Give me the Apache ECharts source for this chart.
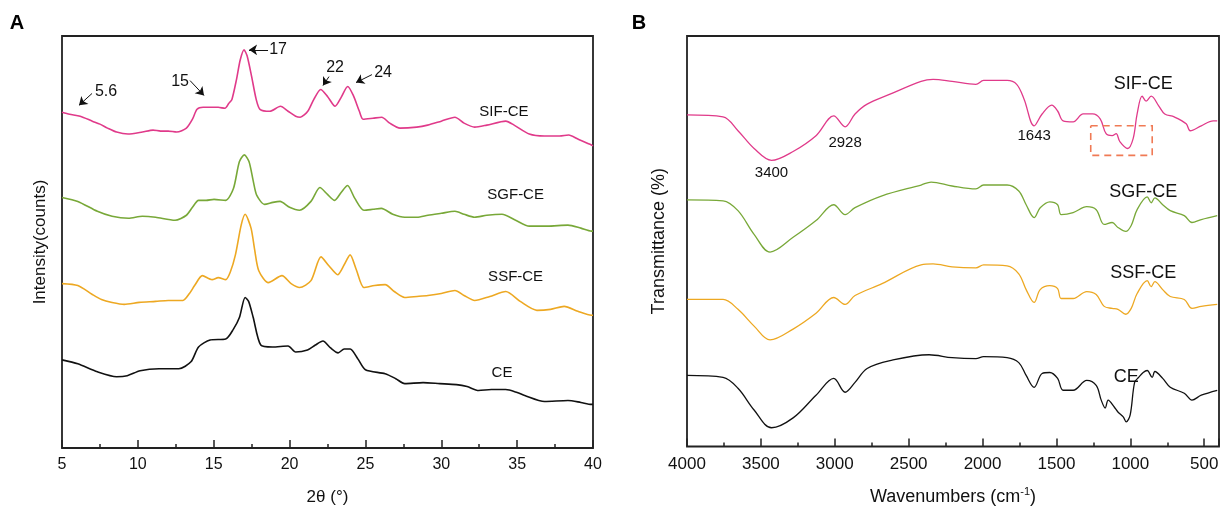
<!DOCTYPE html>
<html><head><meta charset="utf-8">
<script src="https://cdn.jsdelivr.net/npm/echarts@6/dist/echarts.min.js"></script>
<style>html,body{margin:0;padding:0;background:#fff}#c{width:1222px;height:511px}</style>
</head><body><div id="c"></div>
<script>
// ---------- Panel A: XRD, 2θ (°) vs intensity (offset, arbitrary units) ----------
const xrdSIF = [[5.0,339],[5.5,337],[6.2,335],[7.0,330],[7.5,327],[8.0,323],[8.6,319],[9.35,317],[10.3,319],[11.0,321],[11.5,320],[12.0,320],[12.56,319],[13.2,323],[13.6,332],[13.9,342],[14.3,344],[14.75,344],[15.3,344],[15.74,343],[16.0,348],[16.2,352],[16.5,372],[16.75,392],[17.0,402],[17.2,396],[17.5,375],[17.8,352],[18.05,342],[18.7,340],[19.4,345],[19.9,340],[20.4,335],[20.7,334],[21.2,340],[21.6,352],[22.05,362],[22.5,355],[23.0,345],[23.4,354],[23.83,365],[24.2,356],[24.6,340],[24.84,332],[25.5,333],[26.07,334],[26.6,328],[27.28,323],[28.38,324],[29.1,326],[30.0,330],[30.9,334],[31.5,328],[32.2,324],[33.0,326],[34.25,330],[34.8,326],[35.8,317],[36.8,315],[37.8,315],[38.4,316],[39.0,312],[39.9,306],[40,305]];
const xrdSGF = [[5.0,253],[6.04,249],[7.33,239],[8.3,234],[9.38,232],[10.3,234],[11.17,233],[12.45,230],[13.2,235],[13.6,243],[14.0,250],[14.5,250],[15.02,251],[15.79,250],[16.3,262],[16.69,289],[17.02,296],[17.33,289],[17.6,270],[17.84,255],[18.35,246],[18.9,248],[19.37,249],[20.0,243],[20.66,240],[21.41,249],[22.0,263],[22.5,256],[22.97,250],[23.4,258],[23.82,265],[24.3,252],[24.9,240],[25.5,241],[26.05,242],[26.8,236],[27.59,233],[28.4,233],[29.12,235],[30.0,237],[30.9,239],[31.5,236],[32.2,233],[33.0,235],[34.0,236],[34.9,230],[35.8,224],[37.0,224],[38.35,225],[39.2,222],[39.9,219],[40,219]];
const xrdSSF = [[5.0,166],[6.04,164],[7.0,155],[7.6,150],[8.3,147],[9.1,145],[10.1,147],[11.17,148],[12.0,149],[12.97,149],[13.4,156],[13.74,164],[14.25,174],[14.89,170],[15.3,172],[15.79,170],[16.1,178],[16.43,195],[16.81,225],[17.07,236],[17.46,222],[17.7,200],[17.97,179],[18.6,167],[19.5,174],[20.1,166],[20.66,162],[21.41,169],[22.07,193],[22.59,184],[23.17,175],[23.6,185],[23.99,195],[24.4,180],[24.9,162],[25.6,164],[26.3,165],[26.9,158],[27.59,152],[28.4,153],[29.12,154],[30.0,156],[30.9,159],[31.5,154],[32.2,149],[33.2,153],[34.25,158],[35.2,148],[36.3,139],[37.2,140],[38.1,143],[39.0,138],[39.9,134],[40,134]];
const xrdCE = [[5.0,89],[6.04,85],[7.33,77],[8.6,72],[9.3,73],[10.15,78],[11.4,80],[12.7,80],[13.5,87],[14.0,102],[14.76,109],[15.79,110],[16.3,120],[16.7,132],[17.07,152],[17.3,148],[17.6,132],[18.1,104],[18.87,102],[19.9,103],[20.4,97],[21.18,99],[21.7,104],[22.2,108],[22.7,101],[23.2,96],[23.6,100],[24.0,100],[24.5,90],[25.0,79],[26.3,75],[27.0,70],[27.59,65],[28.8,66],[29.9,65],[31.0,64],[31.7,62],[32.46,58],[33.3,59],[34.25,59],[35.0,56],[35.5,53],[36.8,47],[38.35,48],[39.2,46],[39.9,44],[40,44]];
const xrdNames = ['SIF-CE','SGF-CE','SSF-CE','CE'];
const xrdNamePos = [[34.13,339],[34.9,256],[34.9,173],[34.0,76]];
const xrdPeakLabels = [['5.6',7.9,360],['15',12.78,370],['17',19.24,402],['22',23.0,384],['24',26.16,379]];
const xrdArrows = [[[6.98,358],[6.12,346]],[[13.44,371],[14.36,356]],[[18.58,402],[17.33,402]],[[22.6,375],[22.2,366]],[[25.43,377],[24.38,369]]];
const xTicksA = {min:5, max:40, interval:5};

// ---------- Panel B: FTIR, wavenumber (cm-1) vs transmittance (offset) ----------
const irSIF = [[4000,336],[3756,334],[3655,320],[3546,302],[3428,290],[3282,299],[3127,315],[3007,335],[2930,324],[2863,337],[2781,347],[2626,357],[2416,370],[2335,372],[2206,370],[2045,367],[1993,371],[1834,371],[1769,367],[1719,352],[1651,325],[1597,337],[1532,346],[1492,340],[1455,330],[1387,329],[1319,337],[1255,337],[1204,332],[1164,317],[1123,315],[1096,317],[1071,309],[1018,302],[981,312],[954,337],[920,355],[893,350],[859,355],[807,345],[767,337],[703,334],[622,327],[595,320],[520,325],[439,330],[412,330]];
const irSGF = [[4000,250],[3756,249],[3655,239],[3546,215],[3438,197],[3282,212],[3127,229],[3007,245],[2930,235],[2863,242],[2680,254],[2416,265],[2348,268],[2206,264],[2045,261],[1993,265],[1834,265],[1755,259],[1705,245],[1651,232],[1610,242],[1545,248],[1492,245],[1468,235],[1387,237],[1295,243],[1231,240],[1177,225],[1123,227],[1084,222],[1031,218],[994,224],[954,240],[886,253],[859,247],[834,252],[781,245],[730,239],[635,234],[583,227],[520,230],[412,234]];
const irSSF = [[4000,149],[3756,149],[3655,139],[3546,122],[3438,108],[3282,119],[3127,135],[3007,151],[2930,144],[2863,153],[2680,165],[2416,184],[2335,185],[2206,182],[2045,181],[1993,184],[1834,183],[1755,175],[1705,159],[1651,146],[1610,159],[1545,163],[1492,160],[1468,150],[1387,150],[1295,157],[1231,154],[1177,142],[1123,140],[1084,139],[1031,134],[994,140],[954,155],[886,168],[859,162],[834,167],[781,159],[730,152],[635,149],[583,140],[520,142],[412,144]];
const irCE = [[4000,72],[3756,70],[3655,59],[3546,37],[3428,19],[3282,29],[3127,52],[3007,69],[2930,55],[2863,65],[2781,79],[2626,87],[2362,93],[2206,90],[2045,89],[1993,91],[1834,90],[1755,85],[1705,72],[1651,60],[1597,74],[1545,75],[1492,69],[1455,57],[1387,57],[1295,67],[1231,62],[1197,47],[1170,39],[1150,47],[1109,40],[1084,35],[1048,30],[1028,25],[1001,32],[971,65],[944,70],[913,75],[886,77],[852,70],[834,76],[781,69],[730,60],[635,54],[583,47],[520,52],[412,57]];
const irNames = ['SIF-CE','SGF-CE','SSF-CE','CE'];
const irNamePos = [[913,367],[913,258],[913,176],[1028,70]];
const irPeakLabels = [['3400',3428,277],['2928',2930,308],['1643',1651,315]];
const irBox = [[1268,325],[852,325],[852,295],[1268,295],[1268,325]];
const xTicksB = {min:400, max:4000, interval:500};

const colors = ['#E03A8A','#78A838','#EDA822','#111111'];
const FONT = '"Liberation Sans", Arial, sans-serif';

const neg = arr => arr.map(p => [-p[0], p[1]]);

const chart = echarts.init(document.getElementById('c'), null, {renderer:'canvas'});

function xAxisCommon(extra){
  return Object.assign({
    type:'value', axisLine:{show:false},
    axisTick:{show:true, inside:true, length:8, lineStyle:{color:'#222', width:1.5}},
    minorTick:{show:true, splitNumber:2, length:4, lineStyle:{color:'#222', width:1.5}},
    splitLine:{show:false}, minorSplitLine:{show:false},
    nameLocation:'middle',
    nameTextStyle:{fontFamily:FONT, fontSize:17, color:'#111'},
    axisLabel:{fontFamily:FONT, fontSize:16, color:'#111', margin:9}
  }, extra);
}
function yAxisCommon(extra){
  return Object.assign({
    type:'value', min:0, max:416,
    axisLine:{show:false}, axisTick:{show:false}, axisLabel:{show:false}, splitLine:{show:false},
    nameLocation:'middle', nameRotate:90,
    nameTextStyle:{fontFamily:FONT, fontSize:17, color:'#111'}
  }, extra);
}
function textLayer(xi, data, size){
  return {type:'scatter', xAxisIndex:xi, yAxisIndex:xi, symbol:'circle', symbolSize:1,
    itemStyle:{color:'rgba(255,255,255,0)'}, silent:true, data:data,
    label:{show:true, position:'inside', formatter:'{b}', fontFamily:FONT, fontSize:size,
      color:'#111', textBorderWidth:0, textBorderColor:'transparent', opacity:1}, z:5};
}

const series = [];
[xrdSIF, xrdSGF, xrdSSF, xrdCE].forEach((d,i)=>{
  series.push({type:'line', xAxisIndex:0, yAxisIndex:0, data:d, showSymbol:false, smooth:0.25,
    lineStyle:{color:colors[i], width:1.6}, itemStyle:{color:colors[i]}, silent:true, z:3});
});
[irSIF, irSGF, irSSF, irCE].forEach((d,i)=>{
  series.push({type:'line', xAxisIndex:1, yAxisIndex:1, data:neg(d), showSymbol:false, smooth:0.35,
    lineStyle:{color:colors[i], width:1.3}, itemStyle:{color:colors[i]}, silent:true, z:3});
});
series.push(textLayer(0, xrdNames.map((n,i)=>({name:n, value:xrdNamePos[i]})), 15));
series.push(textLayer(0, xrdPeakLabels.map(p=>({name:p[0], value:[p[1],p[2]]})), 16));
series.push({type:'lines', coordinateSystem:'cartesian2d', xAxisIndex:0, yAxisIndex:0, silent:true,
  symbol:['none','arrow'], symbolSize:8,
  lineStyle:{color:'#111', width:1, opacity:1},
  data: xrdArrows.map(c=>({coords:c})), z:6});
series.push(textLayer(1, irNames.map((n,i)=>({name:n, value:[-irNamePos[i][0], irNamePos[i][1]]})), 18));
series.push(textLayer(1, irPeakLabels.map(p=>({name:p[0], value:[-p[1],p[2]]})), 15));
series.push({type:'lines', coordinateSystem:'cartesian2d', xAxisIndex:1, yAxisIndex:1, silent:true, polyline:true,
  symbol:['none','none'],
  lineStyle:{color:'#F07A55', width:1.6, type:[7,5], opacity:1},
  data:[{coords: neg(irBox)}], z:6});

chart.setOption({
  animation:false,
  backgroundColor:'#fff',
  textStyle:{fontFamily:FONT},
  grid:[
    {left:62, top:36, width:531, height:416, show:true, borderColor:'#222', borderWidth:1.8, backgroundColor:'transparent'},
    {left:687, top:36, width:532, height:416, show:true, borderColor:'#222', borderWidth:1.8, backgroundColor:'transparent'}
  ],
  xAxis:[
    xAxisCommon({gridIndex:0, min:xTicksA.min, max:xTicksA.max, interval:xTicksA.interval, name:'2θ (°)', nameGap:41}),
    xAxisCommon({gridIndex:1, min:-xTicksB.max, max:-xTicksB.min, interval:xTicksB.interval,
      name:'Wavenumbers (cm{s|-1})', nameGap:40,
      nameTextStyle:{fontFamily:FONT, fontSize:18, color:'#111', rich:{s:{fontFamily:FONT, fontSize:11, color:'#111', padding:[0,0,10,0]}}},
      axisLabel:{fontFamily:FONT, fontSize:17, color:'#111', margin:9, showMaxLabel:false,
        formatter: v => (Math.abs(v) % 500 === 0 ? String(Math.abs(v)) : '')}})
  ],
  yAxis:[
    yAxisCommon({gridIndex:0, name:'Intensity(counts)', nameGap:13}),
    yAxisCommon({gridIndex:1, name:'Transmittance (%)', nameGap:19, nameTextStyle:{fontFamily:FONT, fontSize:18, color:'#111'}})
  ],
  graphic:[
    {type:'text', x:17, y:23, style:{text:'A', font:'bold 20px "Liberation Sans", Arial, sans-serif', fill:'#000', align:'center', verticalAlign:'middle'}},
    {type:'text', x:639, y:23, style:{text:'B', font:'bold 20px "Liberation Sans", Arial, sans-serif', fill:'#000', align:'center', verticalAlign:'middle'}}
  ],
  series: series
});
</script>
</body></html>
